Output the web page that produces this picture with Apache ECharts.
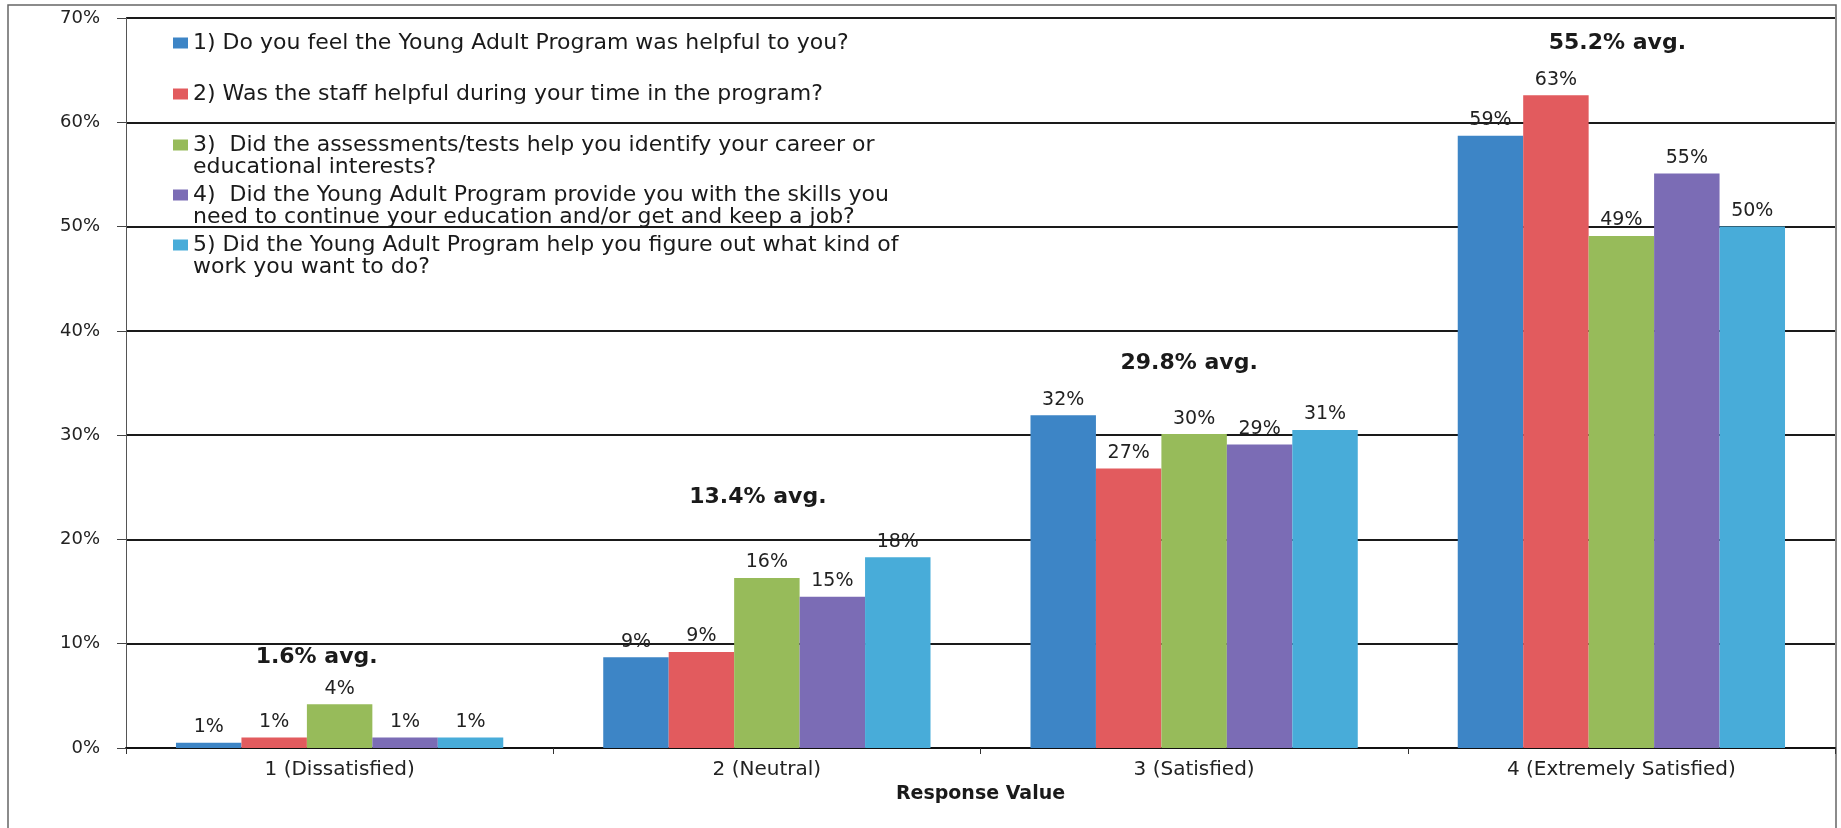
<!DOCTYPE html>
<html>
<head>
<meta charset="utf-8">
<script src="https://cdn.jsdelivr.net/npm/echarts@6/dist/echarts.min.js"></script>
<style>
html, body { margin: 0; padding: 0; background: #fff; }
#chart { width: 1841px; height: 828px; }
</style>
</head>
<body>
<div id="chart"></div>
<script>
// x axis categories (response values)
var categories = ['1 (Dissatisfied)', '2 (Neutral)', '3 (Satisfied)', '4 (Extremely Satisfied)'];
// legend texts, \n marks where the original wraps
var questions = [
    '1) Do you feel the Young Adult Program was helpful to you?',
    '2) Was the staff helpful during your time in the program?',
    '3)  Did the assessments/tests help you identify your career or\neducational interests?',
    '4)  Did the Young Adult Program provide you with the skills you\nneed to continue your education and/or get and keep a job?',
    '5) Did the Young Adult Program help you figure out what kind of\nwork you want to do?'
];
// % of answers, one value per category
var q1 = [0.5, 8.7, 31.9, 58.7];
var q2 = [1.0, 9.2, 26.8, 62.6];
var q3 = [4.2, 16.3, 30.1, 49.1];
var q4 = [1.0, 14.5, 29.1, 55.1];
var q5 = [1.0, 18.3, 30.5, 50.0];
// printed averages per category
var averages = [1.6, 13.4, 29.8, 55.2];
// y axis ticks (%)
var yTicks = [0, 10, 20, 30, 40, 50, 60, 70];

var colors = ['#3d85c6', '#e25b5e', '#97bb5a', '#7b6cb5', '#48acd9'];
var values = [q1, q2, q3, q4, q5];
var names = questions.map(function (q) { return q.replace('\n', ' '); });

// where the "avg." notes sit (y in axis units) and a small x nudge
var avgY = [8.7, 24.0, 36.9, 67.6];
var avgDx = [-23, -9, -5, -4];
var legendTops = [32, 83, 112, 162, 212];

var series = values.map(function (v, i) {
    return {
        name: names[i],
        type: 'bar',
        data: v,
        barGap: '0%',
        barCategoryGap: '23.4%',
        itemStyle: { color: colors[i] },
        label: {
            show: true,
            position: 'top',
            distance: 6,
            fontFamily: 'DejaVu Sans',
            fontSize: 19,
            color: '#222',
            formatter: function (p) { return Math.round(p.value) + '%'; }
        }
    };
});
// middle bar sits on the category centre, so hang the avg notes there
series[2].markPoint = {
    symbol: 'rect',
    symbolSize: 1,
    itemStyle: { color: 'rgba(0,0,0,0)' },
    label: {
        show: true,
        position: 'inside',
        fontFamily: 'DejaVu Sans',
        fontWeight: 'bold',
        fontSize: 22,
        color: '#1a1a1a',
        formatter: function (p) { return p.value + '% avg.'; }
    },
    data: averages.map(function (a, i) {
        return { coord: [categories[i], avgY[i]], value: a, label: { offset: [avgDx[i], 0] } };
    })
};

var legends = names.map(function (n, i) {
    return {
        data: [n],
        left: 173,
        top: legendTops[i],
        padding: 0,
        icon: 'rect',
        itemWidth: 15,
        itemHeight: 11,
        textStyle: { fontFamily: 'DejaVu Sans', fontSize: 22, color: '#1a1a1a', lineHeight: 22 },
        formatter: function () {
            var t = questions[i];
            // blank first line keeps the icon level with the first text line
            return t.indexOf('\n') >= 0 ? '\n' + t : t;
        }
    };
});

var option = {
    animation: false,
    backgroundColor: '#fff',
    textStyle: { fontFamily: 'DejaVu Sans' },
    grid: { left: 126, right: 6, top: 18, bottom: 80 },
    legend: legends,
    xAxis: {
        type: 'category',
        data: categories,
        name: 'Response Value',
        nameLocation: 'middle',
        nameGap: 37,
        nameTextStyle: { fontFamily: 'DejaVu Sans', fontWeight: 'bold', fontSize: 19, color: '#1a1a1a', verticalAlign: 'top' },
        axisLine: { lineStyle: { color: '#111', width: 2 } },
        axisTick: { show: true, length: 6, lineStyle: { color: '#333' } },
        axisLabel: { interval: 0, margin: 12, fontFamily: 'DejaVu Sans', fontSize: 20, color: '#222' }
    },
    yAxis: {
        type: 'value',
        min: yTicks[0],
        max: yTicks[yTicks.length - 1],
        interval: yTicks[1] - yTicks[0],
        axisLine: { show: true, lineStyle: { color: '#555', width: 1 } },
        axisTick: { show: true, length: 9, lineStyle: { color: '#444' } },
        axisLabel: { margin: 26, fontFamily: 'DejaVu Sans', fontSize: 18, color: '#222', formatter: '{value}%' },
        splitLine: { lineStyle: { color: '#1a1a1a', width: 2 } }
    },
    graphic: [{
        // scanned page frame, bottom edge runs off the picture
        type: 'rect',
        shape: { x: 8, y: 5, width: 1828, height: 840 },
        style: { fill: 'none', stroke: '#666', lineWidth: 1.5 },
        silent: true
    }],
    series: series
};

echarts.init(document.getElementById('chart')).setOption(option);
</script>
</body>
</html>
